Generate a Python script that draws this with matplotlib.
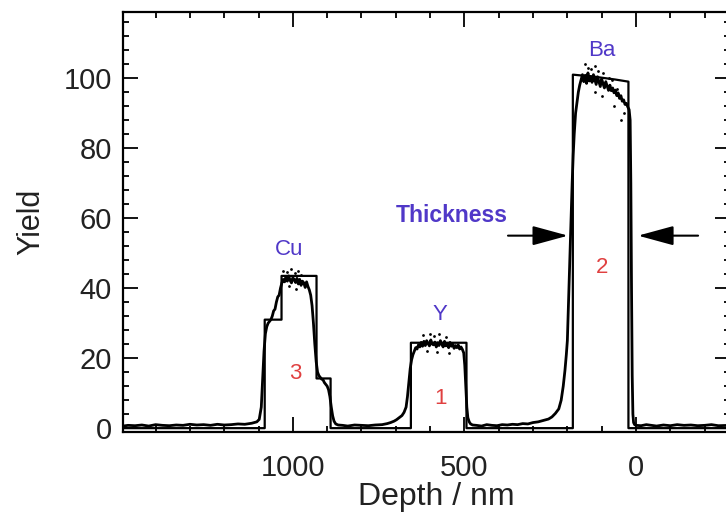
import matplotlib.pyplot as plt
from matplotlib.ticker import MultipleLocator

plt.rcParams['font.family'] = ['Liberation Sans', 'DejaVu Sans']

# simulated depth profile (step model)
sim_depth = [1495, 1082, 1082, 1033, 1033, 931, 931, 890, 890,
             656, 656, 494, 494, 184, 184, 120, 60, 22, 22, -274]
sim_yield = [0, 0, 31, 31, 43.5, 43.5, 14.2, 14.2, 0,
             0, 24.4, 24.4, 0, 0, 101, 100.4, 99.6, 99, 0, 0]

meas_depth = [1495, 1480, 1460, 1440, 1420, 1400, 1380, 1360, 1340, 1320, 1300, 1280,
              1260, 1240, 1220, 1200, 1180, 1160, 1140, 1120, 1105, 1098,
              1092, 1088, 1084, 1080, 1076, 1072, 1068, 1064, 1060, 1056, 1052, 1048,
              1044, 1040, 1036, 1032, 1028, 1024, 1020, 1016, 1012, 1008, 1004, 1000,
              996, 992, 988, 984, 980, 976, 972, 968, 964, 960, 956, 952, 948, 944,
              940, 936, 932, 928, 924, 920, 916, 912, 908, 904, 900, 896, 892, 888,
              884, 880, 875, 868,
              855, 840, 820, 800, 780, 760, 740, 725, 715, 705,
              698, 690, 682, 676, 670, 666, 662, 658, 654, 650, 646, 642, 638, 634,
              630, 626, 622, 618, 614, 610, 606, 602, 598, 594, 590, 586, 582, 578,
              574, 570, 566, 562, 558, 554, 550, 546, 542, 538, 534, 530, 526, 522,
              518, 514, 510, 506, 502, 499, 496, 493, 490, 486, 482, 476,
              465, 450, 435, 420, 405, 390, 375, 360, 345, 330, 315, 300, 285, 270,
              255, 245, 235, 225, 218, 212, 207, 203, 200, 196, 192, 189, 186, 183,
              180, 176, 172, 168, 164, 160, 156, 152, 148, 144, 140, 136, 132, 128,
              124, 120, 116, 112, 108, 104, 100, 96, 92, 88, 84, 80, 76, 72, 68, 64,
              60, 56, 52, 48, 44, 40, 36, 32, 28, 24, 20, 17, 15, 13, 11, 9, 7, 4,
              0, -15, -30, -45, -60, -80, -100, -120, -140, -160, -180, -200, -220,
              -240, -274]
meas_yield = [0.6, 0.8, 0.7, 0.9, 0.6, 1.0, 0.8, 0.7, 0.9, 0.8, 1.1, 0.9,
              1.0, 0.8, 1.1, 0.9, 1.0, 1.2, 1.1, 1.4, 1.8, 2.5,
              6, 14, 22, 27, 29, 30, 30.5, 31, 32, 33.5, 34, 36,
              37.5, 38, 40, 41.5, 42.5, 41.8, 43.2, 42, 43.5, 42.2, 41.5, 43,
              42.4, 41.6, 42.8, 41.2, 42.5, 40.8, 42, 41.5, 40.2, 41.8, 40.5, 39.5, 38, 35,
              30, 24, 19, 16, 15, 14.5, 14, 13.8, 13, 12.5, 12, 11, 9, 6,
              3.5, 2, 1.2, 0.9,
              0.8, 0.6, 0.9, 0.8, 0.7, 0.9, 1.0, 1.3, 1.6, 2.0,
              2.4, 3.0, 3.6, 4.5, 6, 9, 13, 17, 19.5, 21, 22, 23, 22.6, 23.8,
              23.2, 24.5, 23.4, 24.8, 23.6, 25, 24.2, 23.5, 25.2, 24, 23.8, 24.6, 23.2, 24.4,
              23.6, 25, 24, 23.2, 24.8, 23.5, 24.2, 23, 24.5, 23.4, 24, 22.8, 23.6, 23,
              23.8, 22.6, 23.2, 22.5, 21.5, 18, 12, 6, 3, 1.8, 1.2, 0.9,
              0.8, 0.6, 1.0, 0.8, 0.7, 1.0, 0.9, 1.1, 1.0, 1.3, 1.2, 1.6, 1.8, 2.2,
              2.6, 3.2, 4.2, 5.5, 8, 12, 16.5, 21, 25, 38, 50, 60, 70, 78,
              84, 90, 93, 96, 98, 99.5, 101, 99, 100.8, 98.5, 101.5, 99.2, 100.5, 98.8,
              101, 99.6, 98.2, 100.4, 99, 97.6, 99.8, 98.4, 97.2, 99, 97.8, 96.5, 98, 96.4, 97.2, 95.8,
              96.6, 95, 95.8, 94.2, 95, 93.4, 93.8, 92.5, 92.8, 91.8, 91, 88, 70, 40, 15, 4, 1.6, 1.0,
              0.8, 0.7, 1.0, 0.8, 0.6, 0.9, 0.7, 1.0, 0.8, 0.9, 0.7, 0.8, 1.0,
              0.7, 0.8]

# scattered single counts above / below the plateaus
dot_depth = [1030, 1018, 1005, 995, 985, 975, 1010, 990,
             620, 600, 590, 575, 555, 610, 580, 545,
             150, 140, 130, 118, 110, 95, 80, 70, 55, 45, 35, 65, 120, 100]
dot_yield = [45, 44.5, 45.5, 44.2, 44.8, 43.8, 40.5, 39.8,
             26.5, 27, 26.2, 26.8, 26, 22, 21.8, 21.5,
             104, 103, 102.5, 103.5, 102, 101.5, 100, 99.5, 97, 88, 90, 92, 96, 95]

elements = ['Cu', 'Y', 'Ba']
element_pos = [(1010, 51), (572, 32.5), (100, 108)]
order_labels = ['3', '1', '2']
order_pos = [(992, 15.5), (571, 8.6), (100, 46)]

blue = '#5038c8'
red = '#e04040'

fig = plt.figure(figsize=(7.26, 5.16), dpi=100)
ax = fig.add_axes([123 / 726, 84 / 516, 607 / 726, 420 / 516])

ax.plot(sim_depth, sim_yield, color='black', lw=1.6)
ax.plot(meas_depth, meas_yield, color='black', lw=2.0)
ax.scatter(dot_depth, dot_yield, s=4, color='black', lw=0)

ax.set_xlim(1495, -274)
ax.set_ylim(-1.1, 118.9)
ax.set_xticks([1000, 500, 0])
ax.set_yticks(range(0, 101, 20))
ax.xaxis.set_minor_locator(MultipleLocator(100))
ax.yaxis.set_minor_locator(MultipleLocator(4))
ax.tick_params(which='both', direction='in', top=True, right=True, width=1.3,
               colors='black', labelcolor='#222222')
ax.tick_params(which='major', length=11, labelsize=21)
ax.tick_params(which='minor', length=4.5)
ax.tick_params(axis='x', pad=16)
ax.tick_params(axis='y', pad=8)
for s in ax.spines.values():
    s.set_linewidth(1.6)

ax.set_xlabel('Depth / nm', fontsize=23, color='#222222')
ax.set_ylabel('Yield', fontsize=22, color='#222222')
ax.yaxis.set_label_coords(-0.126, 0.5)
ax.xaxis.set_label_coords(0.516, -0.12)

for name, (x, y) in zip(elements, element_pos):
    ax.text(x, y, name, color=blue, fontsize=16, ha='center', va='center')
for name, (x, y) in zip(order_labels, order_pos):
    ax.text(x, y, name, color=red, fontsize=16, ha='center', va='center')

ax.text(536, 60.9, 'Thickness', color=blue, fontsize=16.5, fontweight='bold',
        ha='center', va='center')
arrow = dict(arrowstyle='-|>,head_length=1.1,head_width=0.3', color='black', lw=1.5,
             mutation_scale=20, shrinkA=0, shrinkB=0)
ax.annotate('', xy=(198, 55), xytext=(373, 55), arrowprops=arrow)
ax.annotate('', xy=(-6, 55), xytext=(-181, 55), arrowprops=arrow)

fig.savefig('out.png', dpi=100)
